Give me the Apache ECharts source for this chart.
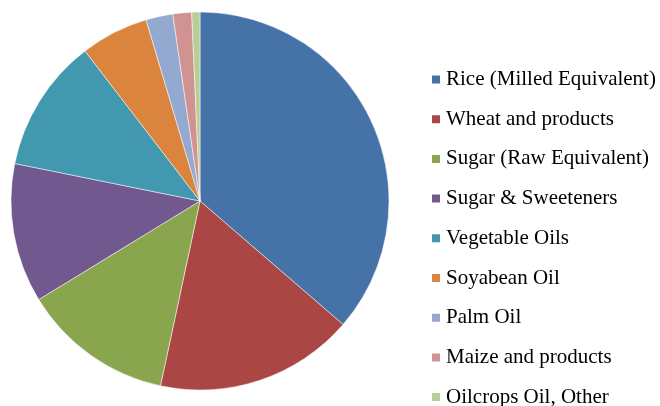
<!DOCTYPE html>
<html>
<head>
<meta charset="utf-8">
<script src="https://cdn.jsdelivr.net/npm/echarts@6/dist/echarts.min.js"></script>
<style>html,body{margin:0;padding:0;background:#fff}#c{width:660px;height:406px}</style>
</head>
<body>
<div id="c"></div>
<script>
const categories = ["Rice (Milled Equivalent)","Wheat and products","Sugar (Raw Equivalent)","Sugar & Sweeteners","Vegetable Oils","Soyabean Oil","Palm Oil","Maize and products","Oilcrops Oil, Other"];
const values = [36.3, 17.0, 12.9, 11.9, 11.4, 5.8, 2.3, 1.6, 0.7];
const colors = ["#4572A7","#AA4643","#89A54E","#71588F","#4198AF","#DB843D","#93A9CF","#D19392","#B9CD96"];

const chart = echarts.init(document.getElementById('c'), null, {renderer:'canvas'});
chart.setOption({
  animation: false,
  color: colors,
  legend: {
    orient: 'vertical',
    left: 430,
    top: 69,
    height: 360,
    padding: 0,
    icon: 'rect',
    itemWidth: 10,
    itemHeight: 10,
    itemGap: 18.7,
    data: categories,
    textStyle: {fontFamily: '"Liberation Serif", "Times New Roman", serif', fontSize: 21, color: '#000'}
  },
  series: [{
    type: 'pie',
    center: [200, 201],
    radius: 189,
    startAngle: 90,
    clockwise: true,
    label: {show: false},
    labelLine: {show: false},
    itemStyle: {borderColor: '#fff', borderWidth: 0.5},
    emphasis: {disabled: true},
    data: categories.map((n, i) => ({name: n, value: values[i]}))
  }]
});
</script>
</body>
</html>
